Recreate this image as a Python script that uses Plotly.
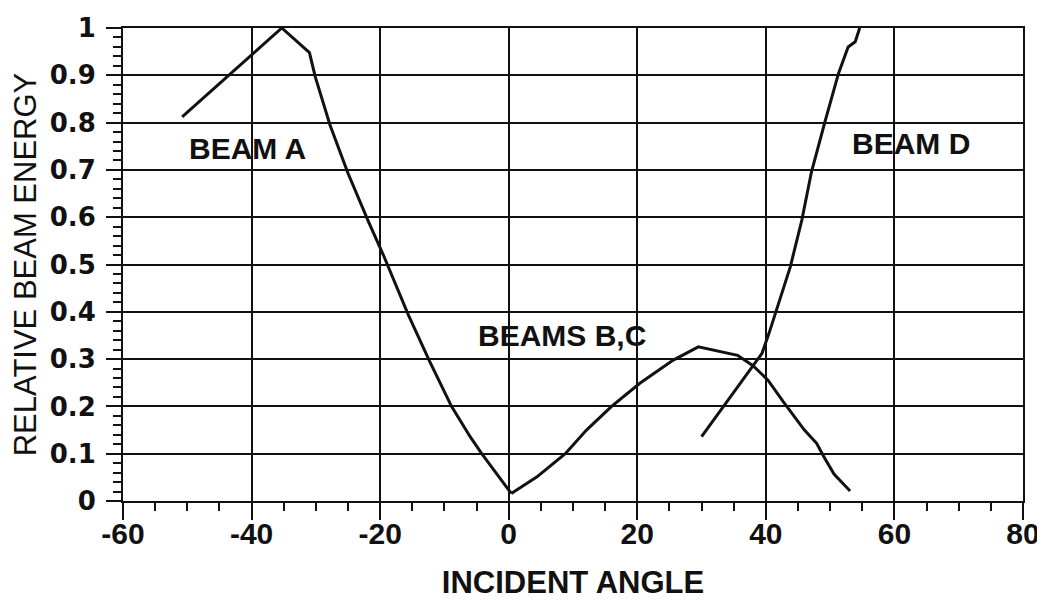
"""
Relative beam energy vs incident angle — line chart, black-on-white print style.
"""

import plotly.graph_objects as go

# ── Data ─────────────────────────────────────────────────────────────────────

beam_a_x = [-50.8, -40.0, -35.3, -31.0, -30.1, -27.8, -25.0, -21.8, -19.5,
            -15.6, -12.3, -8.9, -6.0, -4.2, 0.4]
beam_a_y = [0.812, 0.943, 1.0, 0.948, 0.897, 0.795, 0.693, 0.59, 0.52,
            0.393, 0.295, 0.2, 0.136, 0.1, 0.016]

beam_bc_x = [0.4, 4.4, 8.8, 12.1, 16.0, 20.4, 25.6, 29.5, 35.6, 38.0,
             40.3, 42.7, 46.0, 47.9, 49.0, 50.6, 53.1]
beam_bc_y = [0.016, 0.051, 0.1, 0.15, 0.2, 0.249, 0.298, 0.326, 0.308, 0.286,
             0.256, 0.21, 0.15, 0.122, 0.094, 0.057, 0.021]

beam_d_x = [30.0, 33.4, 38.0, 39.4, 40.5, 43.8, 45.6, 47.1, 49.2, 51.3,
            52.8, 53.9, 54.6]
beam_d_y = [0.136, 0.2, 0.284, 0.312, 0.355, 0.495, 0.594, 0.696, 0.802,
            0.904, 0.96, 0.971, 1.0]

labels = ["BEAM A", "BEAMS B,C", "BEAM D"]
label_x = [-40.6, 8.3, 62.5]
label_y = [0.746, 0.349, 0.755]

x_ticks = [-60, -40, -20, 0, 20, 40, 60, 80]
x_tick_text = ["-60", "-40", "-20", "0", "20", "40", "60", "80"]
y_ticks = [0, 0.1, 0.2, 0.3, 0.4, 0.5, 0.6, 0.7, 0.8, 0.9, 1]
y_tick_text = ["0", "0.1", "0.2", "0.3", "0.4", "0.5", "0.6", "0.7", "0.8", "0.9", "1"]

# ── Style ────────────────────────────────────────────────────────────────────

INK = "#111111"
SANS = "Liberation Sans, Arial, sans-serif"
WIDE = "DejaVu Sans, sans-serif"

fig = go.Figure()

for xs, ys in [(beam_a_x, beam_a_y), (beam_bc_x, beam_bc_y), (beam_d_x, beam_d_y)]:
    fig.add_trace(go.Scatter(
        x=xs, y=ys,
        mode="lines",
        line=dict(color=INK, width=3),
        showlegend=False,
        hoverinfo="skip",
    ))

for text, x, y in zip(labels, label_x, label_y):
    fig.add_annotation(
        x=x, y=y, text=f"<b>{text}</b>",
        showarrow=False,
        font=dict(family=SANS, size=30, color=INK),
    )

# page body adds an 8px margin, so the figure is 8px smaller than the window
fig.update_layout(
    width=1037, height=592,
    paper_bgcolor="white",
    plot_bgcolor="white",
    margin=dict(l=115, r=22, t=20, b=99),
    showlegend=False,
    xaxis=dict(
        range=[-60, 80],
        tickvals=x_ticks, ticktext=x_tick_text,
        ticks="outside", ticklen=17, tickwidth=2, tickcolor=INK,
        ticklabelstandoff=-12,
        tickfont=dict(family=SANS, size=30, color=INK, weight="bold"),
        showgrid=True, gridcolor=INK, gridwidth=2,
        zeroline=False,
        showline=True, linecolor=INK, linewidth=2, mirror=True,
        minor=dict(dtick=5, ticks="outside", ticklen=8, tickwidth=2,
                   tickcolor=INK, showgrid=False),
        automargin=False,
        title=dict(text="<b>INCIDENT ANGLE</b>",
                   font=dict(family=SANS, size=31, color=INK), standoff=22),
    ),
    yaxis=dict(
        range=[0, 1],
        tickvals=y_ticks, ticktext=y_tick_text,
        ticks="outside", ticklen=15, tickwidth=2, tickcolor=INK,
        ticklabelstandoff=5,
        tickfont=dict(family=WIDE, size=26, color=INK, weight="bold"),
        showgrid=True, gridcolor=INK, gridwidth=2,
        zeroline=False,
        showline=True, linecolor=INK, linewidth=2, mirror=True,
        minor=dict(dtick=0.02, ticks="outside", ticklen=8, tickwidth=2,
                   tickcolor=INK, showgrid=False),
        automargin=False,
        title=dict(text="RELATIVE BEAM ENERGY",
                   font=dict(family=SANS, size=31, color=INK), standoff=14),
    ),
)

fig.write_html("out.html")
